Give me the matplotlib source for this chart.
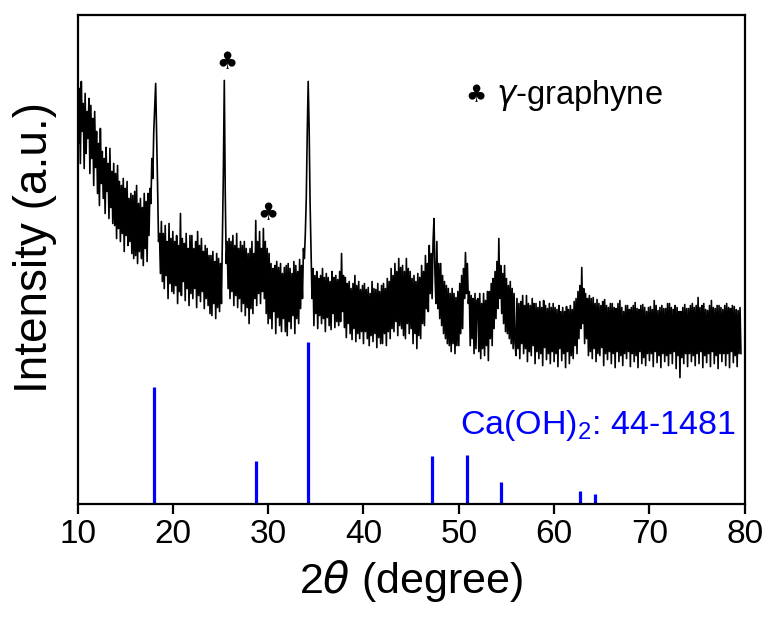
import numpy as np
import matplotlib
matplotlib.use("Agg")
import matplotlib.pyplot as plt

plt.rcParams["font.family"] = ["Liberation Sans", "DejaVu Sans"]
plt.rcParams["mathtext.fontset"] = "custom"
plt.rcParams["mathtext.rm"] = "Liberation Sans"
plt.rcParams["mathtext.it"] = "DejaVu Sans:italic"

# measured pattern, 2theta from 10 deg in 0.1 deg steps (intensity, a.u.)
start_2theta = 10.0
step_2theta = 0.1
intensity = [
    # 10-12
    428, 360, 415, 340, 422, 372, 400, 335, 410, 350, 392, 365, 405, 330, 398, 345, 385, 318, 392, 336,
    372, 310, 360, 298, 375, 320, 352, 305, 345, 290, 356, 312, 340, 285, 355, 296, 332, 280, 340, 278,
    # 14-18
    330, 265, 338, 275, 322, 262, 318, 270, 325, 252, 315, 268, 322, 258, 305, 262, 310, 250, 308, 245,
    312, 248, 318, 240, 300, 252, 305, 245, 296, 238, 310, 255, 302, 242, 310, 268, 315, 300, 345, 325,
    # 18-22
    372, 395, 420, 370, 318, 262, 270, 230, 282, 222, 270, 215, 278, 228, 262, 205, 280, 220, 265, 212,
    272, 210, 262, 218, 268, 200, 258, 212, 290, 208, 265, 222, 260, 203, 270, 215, 255, 198, 268, 210,
    # 22-26
    268, 205, 255, 215, 262, 196, 272, 208, 258, 202, 265, 212, 252, 195, 258, 205, 255, 198, 248, 190,
    248, 188, 252, 200, 242, 185, 250, 196, 245, 192, 240, 200, 262, 330, 423, 310, 240, 262, 215, 265,
    # 26-30
    205, 262, 212, 268, 198, 258, 208, 270, 196, 255, 205, 262, 192, 258, 200, 262, 188, 255, 196, 250,
    180, 255, 195, 262, 190, 250, 205, 283, 198, 262, 210, 272, 200, 255, 212, 275, 205, 262, 190, 255,
    # 30-34
    180, 250, 185, 240, 175, 235, 192, 238, 170, 242, 186, 236, 178, 240, 172, 230, 185, 236, 172, 238,
    168, 240, 182, 235, 175, 230, 188, 242, 170, 238, 185, 232, 180, 244, 195, 238, 205, 255, 245, 270,
    # 34-38
    305, 370, 422, 375, 300, 250, 205, 235, 178, 228, 190, 232, 175, 225, 188, 228, 180, 235, 185, 226,
    172, 230, 186, 226, 178, 222, 174, 232, 190, 226, 176, 228, 182, 224, 178, 232, 182, 250, 192, 228,
    # 38-42
    176, 226, 166, 220, 180, 222, 170, 215, 164, 220, 175, 228, 162, 218, 170, 222, 165, 214, 172, 218,
    160, 220, 172, 214, 165, 216, 158, 210, 168, 222, 162, 215, 170, 214, 156, 220, 166, 212, 160, 218,
    # 42-46
    160, 220, 170, 215, 158, 225, 172, 222, 165, 235, 175, 228, 172, 240, 182, 232, 168, 245, 178, 236,
    175, 238, 168, 232, 165, 245, 180, 235, 170, 232, 175, 225, 160, 228, 170, 222, 155, 230, 168, 226,
    # 46-50
    165, 238, 180, 232, 178, 248, 195, 240, 192, 258, 210, 250, 205, 262, 285, 230, 200, 262, 195, 240,
    185, 240, 178, 228, 170, 222, 165, 218, 160, 215, 158, 210, 152, 215, 160, 210, 150, 206, 158, 212,
    # 50-54
    158, 220, 170, 228, 175, 235, 205, 251, 210, 240, 200, 212, 158, 208, 165, 205, 150, 210, 155, 203,
    205, 152, 210, 145, 200, 155, 210, 148, 203, 158, 212, 143, 212, 165, 220, 158, 225, 175, 232, 185,
    # 54-58
    242, 195, 265, 205, 238, 190, 230, 180, 238, 172, 225, 170, 218, 165, 222, 160, 215, 155, 210, 160,
    148, 205, 155, 200, 145, 202, 160, 208, 150, 198, 155, 208, 142, 200, 152, 198, 148, 205, 158, 200,
    # 58-62
    140, 200, 152, 196, 145, 202, 150, 196, 138, 203, 156, 198, 144, 195, 150, 200, 140, 196, 152, 200,
    142, 196, 150, 194, 137, 198, 155, 192, 143, 196, 150, 192, 136, 197, 152, 194, 140, 198, 148, 194,
    # 62-66
    145, 202, 158, 205, 150, 212, 165, 218, 175, 236, 180, 215, 160, 210, 165, 205, 148, 208, 152, 205,
    145, 206, 155, 200, 142, 204, 150, 200, 148, 198, 156, 202, 138, 204, 150, 198, 144, 196, 152, 200,
    # 66-70
    140, 200, 150, 196, 136, 195, 152, 200, 142, 203, 148, 196, 138, 192, 150, 198, 145, 198, 152, 194,
    137, 196, 150, 198, 142, 201, 148, 195, 136, 194, 152, 198, 140, 199, 146, 196, 138, 192, 150, 196,
    # 70-74
    143, 197, 150, 194, 137, 203, 152, 198, 141, 193, 148, 196, 136, 198, 150, 195, 142, 195, 148, 200,
    138, 200, 150, 196, 140, 194, 152, 198, 135, 196, 148, 192, 126, 192, 146, 196, 140, 199, 150, 195,
    # 74-78
    137, 195, 150, 198, 142, 200, 148, 196, 138, 198, 150, 206, 140, 196, 152, 198, 136, 200, 148, 194,
    141, 193, 150, 198, 137, 203, 152, 196, 140, 195, 148, 198, 135, 198, 150, 196, 142, 194, 150, 198,
    # 78-79.6
    138, 200, 150, 196, 136, 195, 152, 198, 141, 197, 148, 194, 137, 193, 150, 196, 150,
]

# Ca(OH)2 reference card 44-1481
ref_2theta = [18.0, 28.7, 34.2, 47.2, 50.9, 54.4, 62.7, 64.3]
ref_height = [117, 43, 162, 48, 49, 22, 13, 10]

# gamma-graphyne peaks marked with clubs
club_2theta = [25.7, 30.0]
club_height = [441, 290]


def main() -> None:
    two_theta = start_2theta + step_2theta * np.arange(len(intensity))

    fig = plt.figure(figsize=(7.75, 6.21), dpi=100)
    ax = fig.add_axes([0.100, 0.189, 0.861, 0.787])

    ax.plot(two_theta, intensity, color="black", lw=1.2)
    ax.vlines(ref_2theta, 0, ref_height, color="#0000ff", lw=2.3)

    for x, y in zip(club_2theta, club_height):
        ax.text(x, y, "\u2663", fontsize=17, ha="center", va="center",
                family=["DejaVu Sans"])

    ax.text(51.8, 408, "\u2663", fontsize=17, ha="center", va="center",
            family=["DejaVu Sans"])
    ax.text(53.9, 408, r"$\gamma$-graphyne", fontsize=23.5, ha="left", va="center")
    ax.text(79.0, 78, r"Ca(OH)$_2$: 44-1481", fontsize=24.5, ha="right",
            va="center", color="#0000ff")

    ax.set_xlim(10, 80)
    ax.set_ylim(0, 488.5)
    ax.set_xticks(range(10, 81, 10))
    ax.set_yticks([])
    ax.tick_params(axis="x", direction="out", length=7, width=1.6,
                   labelsize=24, pad=4)
    for sp in ax.spines.values():
        sp.set_linewidth(1.6)

    ax.set_xlabel(r"2$\theta$ (degree)", fontsize=31, labelpad=6)
    ax.set_ylabel("Intensity (a.u.)", fontsize=33)
    ax.yaxis.set_label_coords(-0.03, 0.525)

    fig.savefig("out.png", dpi=100)
    plt.close(fig)


if __name__ == "__main__":
    main()
